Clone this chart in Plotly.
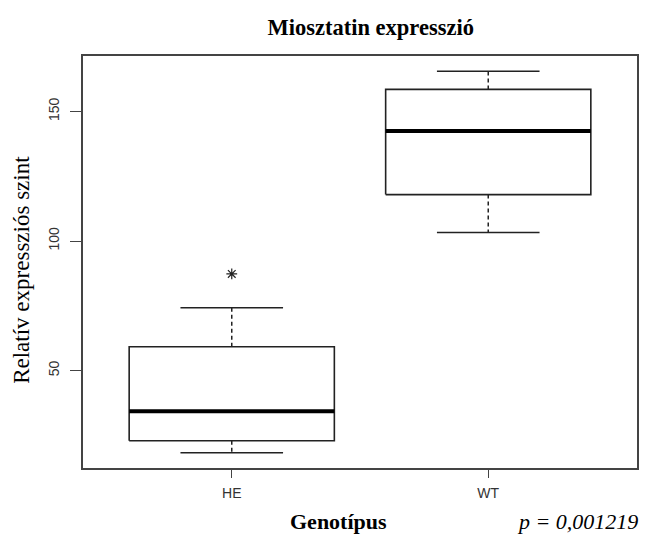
import plotly.graph_objects as go

# ---- data ----
categories = ["HE", "WT"]
lower_whisker = [18.3, 103.3]
q1 = [22.9, 117.9]
median = [34.3, 142.4]
q3 = [59.2, 158.5]
upper_whisker = [74.2, 165.5]
outlier_group = ["HE"]
outlier_value = [87.3]
y_ticks = [50, 100, 150]

title_text = "Miosztatin expresszió"
x_title = "Genotípus"
y_title = "Relatív expressziós szint"
p_text = "p = 0,001219"

# ---- style ----
BOX_HALF = 0.4
CAP_HALF = 0.2
INK = "#222222"
FRAME = "#444444"

fig = go.Figure()
positions = list(range(1, len(categories) + 1))

for pos, lw, a, m, b, uw in zip(positions, lower_whisker, q1, median, q3, upper_whisker):
    # whiskers (dashed)
    fig.add_trace(go.Scatter(
        x=[pos, pos, None, pos, pos], y=[b, uw, None, a, lw],
        mode="lines", line=dict(color=INK, width=1.5, dash="4px,3px"),
        hoverinfo="skip", showlegend=False))
    # whisker caps
    fig.add_trace(go.Scatter(
        x=[pos - CAP_HALF, pos + CAP_HALF, None, pos - CAP_HALF, pos + CAP_HALF],
        y=[uw, uw, None, lw, lw],
        mode="lines", line=dict(color=INK, width=1.5),
        hoverinfo="skip", showlegend=False))
    # box
    fig.add_trace(go.Scatter(
        x=[pos - BOX_HALF, pos + BOX_HALF, pos + BOX_HALF, pos - BOX_HALF, pos - BOX_HALF],
        y=[a, a, b, b, a],
        mode="lines", line=dict(color=INK, width=1.6),
        hoverinfo="skip", showlegend=False))
    # median
    fig.add_trace(go.Scatter(
        x=[pos - BOX_HALF, pos + BOX_HALF], y=[m, m],
        mode="lines", line=dict(color="#000000", width=4),
        hoverinfo="skip", showlegend=False))

# outliers
out_x = [positions[categories.index(g)] for g in outlier_group]
fig.add_trace(go.Scatter(
    x=out_x, y=outlier_value, mode="markers",
    marker=dict(symbol="asterisk-open", size=9, color=INK, line=dict(color=INK, width=1.2)),
    hoverinfo="skip", showlegend=False))

# axis ranges in R style (4% extension)
all_vals = lower_whisker + upper_whisker + outlier_value
ymin, ymax = min(all_vals), max(all_vals)
span = ymax - ymin
yrange = [ymin - 0.04 * span, ymax + 0.04 * span]
xspan = len(categories)
xrange = [0.5 - 0.04 * xspan, len(categories) + 0.5 + 0.04 * xspan]

# page body has an 8px margin, so the figure is 8px smaller on each axis
fig.update_layout(
    width=650, height=533,
    margin=dict(l=75, r=21, t=48, b=73),
    paper_bgcolor="white", plot_bgcolor="white",
    showlegend=False,
    title=dict(text="<b>" + title_text + "</b>", x=0.558, xanchor="center",
               y=0.964, yanchor="middle",
               font=dict(family="Liberation Serif", size=22.5, color="#000000")),
    xaxis=dict(range=xrange, tickmode="array", tickvals=positions, ticktext=categories,
               showgrid=False, zeroline=False,
               showline=True, mirror=True, linecolor=FRAME, linewidth=1.6,
               ticks="outside", ticklen=8, tickcolor=FRAME, tickwidth=1.2,
               ticklabelstandoff=3,
               tickfont=dict(family="Liberation Sans", size=14, color="#333333")),
    yaxis=dict(range=yrange, tickmode="array", tickvals=y_ticks,
               showgrid=False, zeroline=False,
               showline=True, mirror=True, linecolor=FRAME, linewidth=1.6,
               ticks="outside", ticklen=11, tickcolor=FRAME, tickwidth=1.2,
               tickangle=-90, ticklabelstandoff=6,
               tickfont=dict(family="Liberation Sans", size=14, color="#333333")),
    annotations=[
        dict(text=y_title, xref="paper", yref="paper", x=0, y=0.481, xshift=-61,
             xanchor="center", yanchor="middle", textangle=-90, showarrow=False,
             font=dict(family="Liberation Serif", size=23, color="#000000")),
        dict(text="<b>" + x_title + "</b>", xref="paper", yref="paper", x=0.462, y=0,
             yshift=-53, xanchor="center", yanchor="middle", showarrow=False,
             font=dict(family="Liberation Serif", size=22, color="#000000")),
        dict(text="<i>" + p_text + "</i>", xref="paper", yref="paper", x=1, y=0,
             yshift=-53, xshift=3, xanchor="right", yanchor="middle", showarrow=False,
             font=dict(family="Liberation Serif", size=22, color="#000000")),
    ],
)

fig.write_html("out.html")
